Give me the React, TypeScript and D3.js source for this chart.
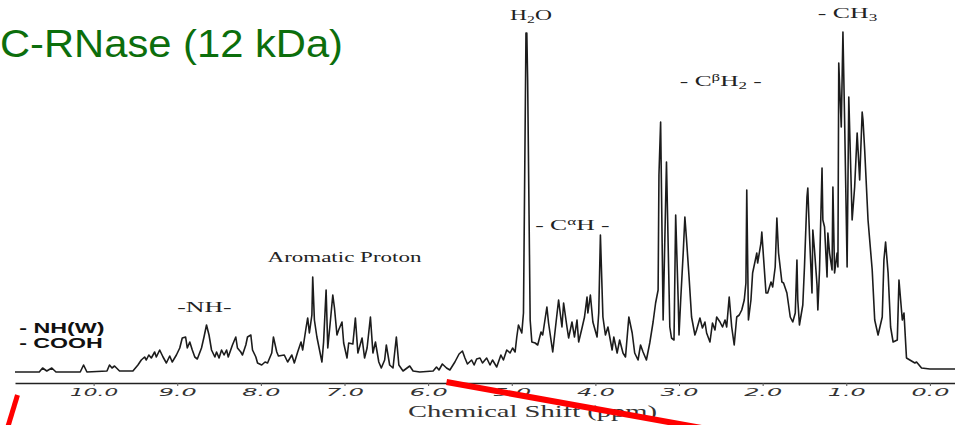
import React, { useEffect, useRef } from "react";
import * as d3 from "d3";

// spectrum: [chemical shift (ppm), intensity (arb. units)]
const amideRegion: [number, number][] = [
  [10.94, 1], [10.65, 1], [10.61, 5], [10.56, 2], [10.5, 5], [10.45, 1], [10.16, 1], [10.12, 8], [10.08, 1],
  [9.84, 2], [9.81, 8], [9.78, 5], [9.75, 7], [9.69, 2], [9.53, 2], [9.47, 8], [9.43, 13], [9.39, 16],
  [9.37, 13], [9.34, 18], [9.31, 15], [9.27, 21], [9.25, 16], [9.21, 23], [9.17, 16], [9.13, 10], [9.09, 17],
  [9.06, 11], [9.01, 18], [8.97, 25], [8.94, 35], [8.9, 36], [8.88, 25], [8.85, 31], [8.82, 23], [8.79, 16],
  [8.76, 14], [8.71, 25], [8.68, 36], [8.65, 48], [8.62, 38], [8.59, 23], [8.55, 16], [8.53, 21], [8.5, 15],
  [8.47, 23], [8.44, 18], [8.41, 23], [8.39, 16], [8.34, 28], [8.3, 36], [8.28, 25], [8.24, 21], [8.22, 18],
  [8.18, 28], [8.16, 36], [8.12, 38], [8.1, 23], [8.06, 16], [8.04, 10], [7.99, 8], [7.95, 11], [7.92, 10],
  [7.87, 20], [7.85, 36], [7.81, 21], [7.79, 17],
];

const aromaticRegion: [number, number][] = [
  [7.72, 18], [7.68, 11], [7.63, 18], [7.6, 10], [7.56, 21], [7.52, 31], [7.5, 23], [7.46, 45], [7.44, 55],
  [7.42, 40], [7.39, 58], [7.38, 96], [7.36, 53], [7.33, 36], [7.27, 11], [7.25, 31], [7.22, 83], [7.2, 25],
  [7.17, 51], [7.14, 78], [7.12, 65], [7.09, 38], [7.07, 43], [7.03, 51], [7.01, 30], [6.97, 15], [6.95, 30],
  [6.9, 29], [6.87, 55], [6.84, 20], [6.79, 35], [6.76, 15], [6.73, 25], [6.69, 56], [6.66, 20], [6.63, 31],
  [6.59, 11], [6.56, 5], [6.52, 13], [6.5, 28], [6.46, 8], [6.42, 5], [6.38, 36], [6.35, 8], [6.3, 2],
  [6.22, 7], [6.18, 2], [6.1, 1], [5.94, 2], [5.9, 6], [5.87, 3], [5.83, 9], [5.78, 5], [5.74, 3], [5.68, 11],
  [5.63, 19], [5.59, 22], [5.56, 15], [5.53, 9], [5.48, 13], [5.45, 8], [5.42, 14], [5.38, 15],
];

const alphaRegion: [number, number][] = [
  [5.35, 10], [5.3, 15], [5.26, 8], [5.23, 13], [5.18, 6], [5.13, 18], [5.1, 13], [5.06, 23], [5.02, 20],
  [4.99, 25], [4.96, 21], [4.94, 36], [4.92, 48], [4.88, 40], [4.86, 60], [4.83, 340], [4.82, 340], [4.81, 293],
  [4.78, 53], [4.76, 31], [4.72, 30], [4.69, 28], [4.65, 41], [4.63, 38], [4.58, 66], [4.56, 50], [4.51, 21],
  [4.47, 51], [4.44, 73], [4.4, 46], [4.38, 70], [4.34, 46], [4.32, 35], [4.28, 51], [4.25, 36], [4.22, 53],
  [4.2, 31], [4.16, 45], [4.13, 56], [4.1, 76], [4.09, 60], [4.06, 78], [4.03, 51], [3.98, 36], [3.96, 60],
  [3.94, 138], [3.91, 56], [3.88, 38], [3.85, 46], [3.8, 23], [3.78, 36], [3.74, 20], [3.71, 33], [3.67, 20],
  [3.64, 16], [3.6, 56], [3.56, 40], [3.53, 20], [3.49, 13], [3.46, 28], [3.43, 21], [3.39, 13], [3.35, 30],
  [3.31, 51], [3.28, 70],
];

const aliphaticRegion: [number, number][] = [
  [3.25, 83], [3.24, 198], [3.22, 251], [3.19, 53], [3.15, 211], [3.11, 46], [3.09, 35], [3.06, 33], [3.04, 158],
  [3.01, 73], [3.0, 38], [2.98, 73], [2.95, 120], [2.93, 156], [2.91, 133], [2.88, 96], [2.85, 56], [2.81, 38],
  [2.79, 43], [2.75, 55], [2.72, 45], [2.69, 51], [2.67, 40], [2.63, 31], [2.6, 50], [2.57, 43], [2.55, 56],
  [2.51, 51], [2.48, 46], [2.45, 53], [2.43, 46], [2.4, 76], [2.37, 46], [2.34, 28], [2.31, 56], [2.28, 58],
  [2.25, 63], [2.22, 73], [2.2, 90], [2.19, 183], [2.17, 53], [2.14, 73], [2.12, 100], [2.07, 120], [2.06, 110],
  [2.02, 130], [2.01, 141], [1.99, 116], [1.96, 80], [1.94, 80], [1.9, 91], [1.88, 86], [1.85, 106], [1.83, 155],
  [1.81, 120], [1.77, 91], [1.75, 90], [1.71, 80], [1.67, 56], [1.64, 51], [1.61, 60], [1.59, 113], [1.58, 73],
  [1.56, 48], [1.52, 68], [1.5, 106], [1.47, 176], [1.46, 185], [1.44, 138], [1.41, 80], [1.4, 143], [1.38, 123],
  [1.35, 88], [1.34, 63], [1.32, 103], [1.29, 205], [1.28, 153], [1.26, 146], [1.23, 96], [1.22, 140], [1.2, 120],
  [1.17, 103], [1.16, 186], [1.14, 100], [1.11, 120], [1.1, 106], [1.09, 310], [1.06, 246], [1.04, 341],
  [1.02, 253], [0.99, 106], [0.97, 276], [0.93, 153], [0.9, 186], [0.87, 240], [0.84, 193], [0.81, 261],
  [0.8, 253], [0.78, 223], [0.74, 153], [0.69, 103], [0.66, 53], [0.62, 38], [0.57, 56], [0.55, 113], [0.53, 131],
  [0.5, 100], [0.47, 46], [0.44, 31], [0.39, 33], [0.37, 93], [0.33, 53], [0.31, 60], [0.28, 15], [0.24, 13],
  [0.18, 10], [0.16, 11], [0.1, 5], [0.0, 4], [-0.3, 4],
];

const tickValues = [10, 9, 8, 7, 6, 5, 4, 3, 2, 1, 0];
const tickLabels = ["10.0", "9.0", "8.0", "7.0", "6.0", "5.0", "4.0", "3.0", "2.0", "1.0", "0.0"];

// group labels: text pieces (sub/sup), ppm span, baseline level
const peakLabels = [
  { parts: [["H"], ["2", "sub"], ["O"]], from: 5.02, to: 4.52, level: 353 },
  { parts: [["- CH"], ["3", "sub"]], from: 1.34, to: 0.63, level: 355 },
  { parts: [["- C"], ["β", "sup"], ["H"], ["2", "sub"], [" -"]], from: 2.99, to: 2.01, level: 287 },
  { parts: [["- C"], ["α", "sup"], ["H -"]], from: 4.72, to: 3.83, level: 143 },
  { parts: [["Aromatic Proton"]], from: 7.92, to: 6.08, level: 111 },
  { parts: [["-NH-"]], from: 9.0, to: 8.35, level: 61 },
];

const boldLabels = [
  { text: "- NH(W)", from: 10.89, to: 9.87, level: 40 },
  { text: "- COOH", from: 10.89, to: 9.89, level: 25 },
];

// red marker strokes drawn over the scan
const markerStrokes = [
  { from: [11.03, -55], to: [10.91, -22], width: 5 },
  { from: [5.78, -9], to: [2.73, -55], width: 6 },
];

export default function App() {
  const svgRef = useRef<SVGSVGElement | null>(null);

  useEffect(() => {
    const svg = d3.select(svgRef.current);
    svg.selectAll("*").remove();

    const width = 955;
    const height = 425;
    svg.attr("width", width).attr("height", height);

    svg.append("rect").attr("width", width).attr("height", height).attr("fill", "#fff");

    // scales
    const xScale = d3.scaleLinear().domain([10.94, -0.3]).range([15, 955]);
    const yScale = d3.scaleLinear().domain([0, 340]).range([373, 33]);

    // title
    svg.append("text")
      .attr("x", 0)
      .attr("y", 57)
      .attr("font-family", "Liberation Sans, Arial, sans-serif")
      .attr("font-size", 38)
      .attr("fill", "#0c6e0c")
      .attr("textLength", 343)
      .attr("lengthAdjust", "spacingAndGlyphs")
      .text("C-RNase (12 kDa)");

    // spectrum trace
    const spectrum = [...amideRegion, ...aromaticRegion, ...alphaRegion, ...aliphaticRegion];
    const line = d3.line<[number, number]>()
      .x((d) => xScale(d[0]))
      .y((d) => yScale(d[1]));

    svg.append("path")
      .datum(spectrum)
      .attr("d", line)
      .attr("fill", "none")
      .attr("stroke", "#1c1c1c")
      .attr("stroke-width", 1.6)
      .attr("stroke-linejoin", "round");

    // axis
    const xAxis = d3.axisBottom(xScale)
      .tickValues(tickValues)
      .tickSize(3)
      .tickSizeOuter(0)
      .tickFormat((d, i) => tickLabels[i]);

    const gx = svg.append("g")
      .attr("transform", "translate(0,383)")
      .call(xAxis);
    gx.select(".domain").attr("stroke", "#222").attr("stroke-width", 1.6);
    gx.selectAll(".tick line").attr("stroke", "#555");
    gx.selectAll<SVGTextElement, number>(".tick text")
      .attr("font-family", "DejaVu Sans, sans-serif")
      .attr("font-style", "italic")
      .attr("font-size", 10.5)
      .attr("fill", "#333")
      .attr("textLength", (d, i) => tickLabels[i].length * 10 + 8)
      .attr("lengthAdjust", "spacingAndGlyphs");

    svg.append("text")
      .attr("x", 408)
      .attr("y", 417)
      .attr("font-family", "Liberation Serif, Times New Roman, serif")
      .attr("font-size", 17)
      .attr("fill", "#333")
      .attr("textLength", 249)
      .attr("lengthAdjust", "spacingAndGlyphs")
      .text("Chemical Shift (ppm)");

    // group labels
    peakLabels.forEach((lab) => {
      const t = svg.append("text")
        .attr("x", xScale(lab.from))
        .attr("y", yScale(lab.level))
        .attr("font-family", "Liberation Serif, Times New Roman, serif")
        .attr("font-size", 15)
        .attr("fill", "#222")
        .attr("textLength", xScale(lab.to) - xScale(lab.from))
        .attr("lengthAdjust", "spacingAndGlyphs");
      let prev = 0;
      lab.parts.forEach(([s, kind]) => {
        const off = kind === "sub" ? 3 : kind === "sup" ? -5 : 0;
        t.append("tspan")
          .attr("dy", off - prev)
          .attr("font-size", kind ? 10 : 15)
          .text(s);
        prev = off;
      });
    });

    boldLabels.forEach((lab) => {
      svg.append("text")
        .attr("x", xScale(lab.from))
        .attr("y", yScale(lab.level))
        .attr("font-family", "Liberation Sans, Arial, sans-serif")
        .attr("font-weight", "bold")
        .attr("font-size", 14)
        .attr("fill", "#111")
        .attr("textLength", xScale(lab.to) - xScale(lab.from))
        .attr("lengthAdjust", "spacingAndGlyphs")
        .text(lab.text);
    });

    // red strokes
    svg.selectAll(".marker")
      .data(markerStrokes)
      .join("line")
      .attr("class", "marker")
      .attr("x1", (d) => xScale(d.from[0]))
      .attr("y1", (d) => yScale(d.from[1]))
      .attr("x2", (d) => xScale(d.to[0]))
      .attr("y2", (d) => yScale(d.to[1]))
      .attr("stroke", "#f00")
      .attr("stroke-width", (d) => d.width);
  }, []);

  return (
    <div style={{ position: "absolute", left: 0, top: 0 }}>
      <svg ref={svgRef} style={{ display: "block" }}></svg>
    </div>
  );
}
